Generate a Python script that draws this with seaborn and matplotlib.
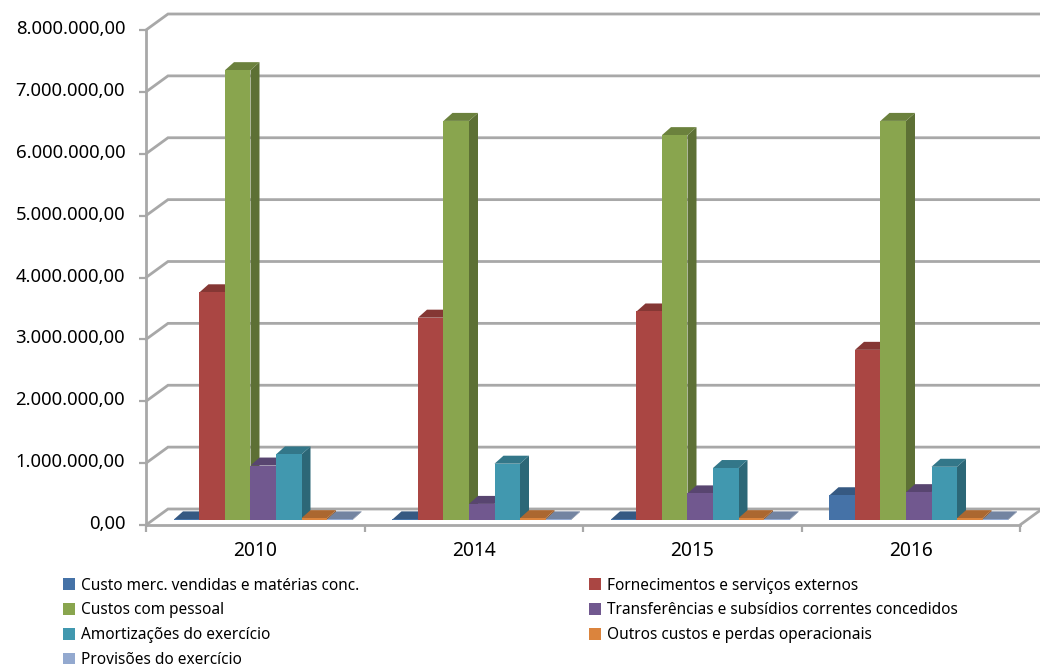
import numpy as np
import pandas as pd
import matplotlib
matplotlib.use("Agg")
import matplotlib.pyplot as plt
from matplotlib.patches import Polygon, Patch
from matplotlib.colors import to_rgb
from matplotlib.transforms import ScaledTranslation
import seaborn as sns

years = ["2010", "2014", "2015", "2016"]
series_names = [
    "Custo merc. vendidas e matérias conc.",
    "Fornecimentos e serviços externos",
    "Custos com pessoal",
    "Transferências e subsídios correntes concedidos",
    "Amortizações do exercício",
    "Outros custos e perdas operacionais",
    "Provisões do exercício",
]
custo_merc = [10000, 10000, 10000, 400000]
fornecimentos = [3680000, 3270000, 3370000, 2750000]
pessoal = [7270000, 6450000, 6220000, 6450000]
transferencias = [880000, 260000, 430000, 450000]
amortizacoes = [1060000, 910000, 840000, 860000]
outros = [30000, 30000, 30000, 30000]
provisoes = [10000, 10000, 10000, 10000]
colors = ["#4572A7", "#AA4643", "#89A54E", "#71588F", "#4198AF", "#DB843D", "#93A9CF"]
y_ticks = [0, 1000000, 2000000, 3000000, 4000000, 5000000, 6000000, 7000000, 8000000]

all_values = [custo_merc, fornecimentos, pessoal, transferencias, amortizacoes, outros, provisoes]
df = pd.DataFrame(
    [{"ano": y, "serie": n, "valor": v}
     for n, vals in zip(series_names, all_values) for y, v in zip(years, vals)]
)

sns.set_theme(style="white")
plt.rcParams["font.family"] = ["Noto Sans", "DejaVu Sans"]

W, H = 1040, 668
fig = plt.figure(figsize=(W / 100, H / 100), dpi=100, facecolor="white")
L, R, T, B = 146, 1020, 30, 525
ax = fig.add_axes([L / W, 1 - B / H, (R - L) / W, (B - T) / H])

sns.barplot(data=df, x="ano", y="valor", hue="serie", hue_order=series_names, order=years,
            palette=colors, width=0.817, gap=0, saturation=1, errorbar=None, legend=False,
            ax=ax, linewidth=0, zorder=3)
ax.set_xlim(-0.5, 3.5)
ax.set_ylim(0, 8000000)
ax.set_xlabel("")
ax.set_ylabel("")

# pixel -> data units
px = 4 / (R - L)
py = 8000000 / (B - T)
grid = "#a8a8a8"
back_x, back_y = 22 * px, 16 * py

# walls / grid
for v in y_ticks:
    ax.plot([-0.5, -0.5 + back_x, 3.5 + back_x], [v, v + back_y, v + back_y],
            color=grid, lw=2.0, clip_on=False, zorder=1, solid_joinstyle="miter")
ax.plot([3.5, 3.5 + back_x], [0, back_y], color=grid, lw=2.0, clip_on=False, zorder=1)

# extruded bars
off_x, off_y = 8 * px, 5 * py
dep_x, dep_y = 9 * px, 8 * py
for i, cont in enumerate(ax.containers):
    base = np.array(to_rgb(colors[i]))
    for p in cont.patches:
        p.set_x(p.get_x() + off_x)
        p.set_y(off_y)
        p.set_clip_on(False)
        p.set_zorder(3 + i * 0.1 + 0.05)
        x0, x1 = p.get_x(), p.get_x() + p.get_width()
        y0, y1 = off_y, off_y + p.get_height()
        ax.add_patch(Polygon([(x1, y0), (x1 + dep_x, y0 + dep_y), (x1 + dep_x, y1 + dep_y), (x1, y1)],
                             closed=True, fc=base * 0.68, ec="none", clip_on=False, zorder=3 + i * 0.1))
        ax.add_patch(Polygon([(x0, y1), (x0 + dep_x, y1 + dep_y), (x1 + dep_x, y1 + dep_y), (x1, y1)],
                             closed=True, fc=base * 0.78, ec="none", clip_on=False, zorder=3 + i * 0.1))

# axes
sns.despine(ax=ax, top=True, right=True)
for s in ("left", "bottom"):
    ax.spines[s].set_color(grid)
    ax.spines[s].set_linewidth(2.0)
    ax.spines[s].set_zorder(6)
ax.set_yticks(y_ticks)
ax.set_yticklabels([f"{v:,.2f}".replace(",", "X").replace(".", ",").replace("X", ".") for v in y_ticks])
ax.tick_params(axis="y", length=5, width=1.6, color=grid, pad=10, labelsize=13.3, labelcolor="black", left=True)
ax.set_xticks(range(len(years)))
ax.set_xticklabels(years)
ax.tick_params(axis="x", which="major", length=0, pad=11.5, labelsize=13.8, labelcolor="black")
ax.set_xticks([-0.5, 0.5, 1.5, 2.5, 3.5], minor=True)
ax.tick_params(axis="x", which="minor", length=5, width=1.6, color=grid, bottom=True)
shift = ScaledTranslation(0, 0.03, fig.dpi_scale_trans)
for lab in ax.get_yticklabels():
    lab.set_transform(lab.get_transform() + shift)

# legend, filled row by row as in the source
handles = [Patch(fc=c, ec="none", label=n) for c, n in zip(colors, series_names)]
order = [0, 2, 4, 6, 1, 3, 5]
fig.legend([handles[k] for k in order], [series_names[k] for k in order], ncol=2,
           loc="upper left", bbox_to_anchor=(58.5 / W, 1 - 573 / H), frameon=False,
           fontsize=11.1, handlelength=0.78, handleheight=0.78, handletextpad=0.4,
           labelspacing=0.57, columnspacing=14.9, borderpad=0.3, borderaxespad=0,
           labelcolor="black")

fig.savefig("out.png", dpi=100, facecolor="white")
